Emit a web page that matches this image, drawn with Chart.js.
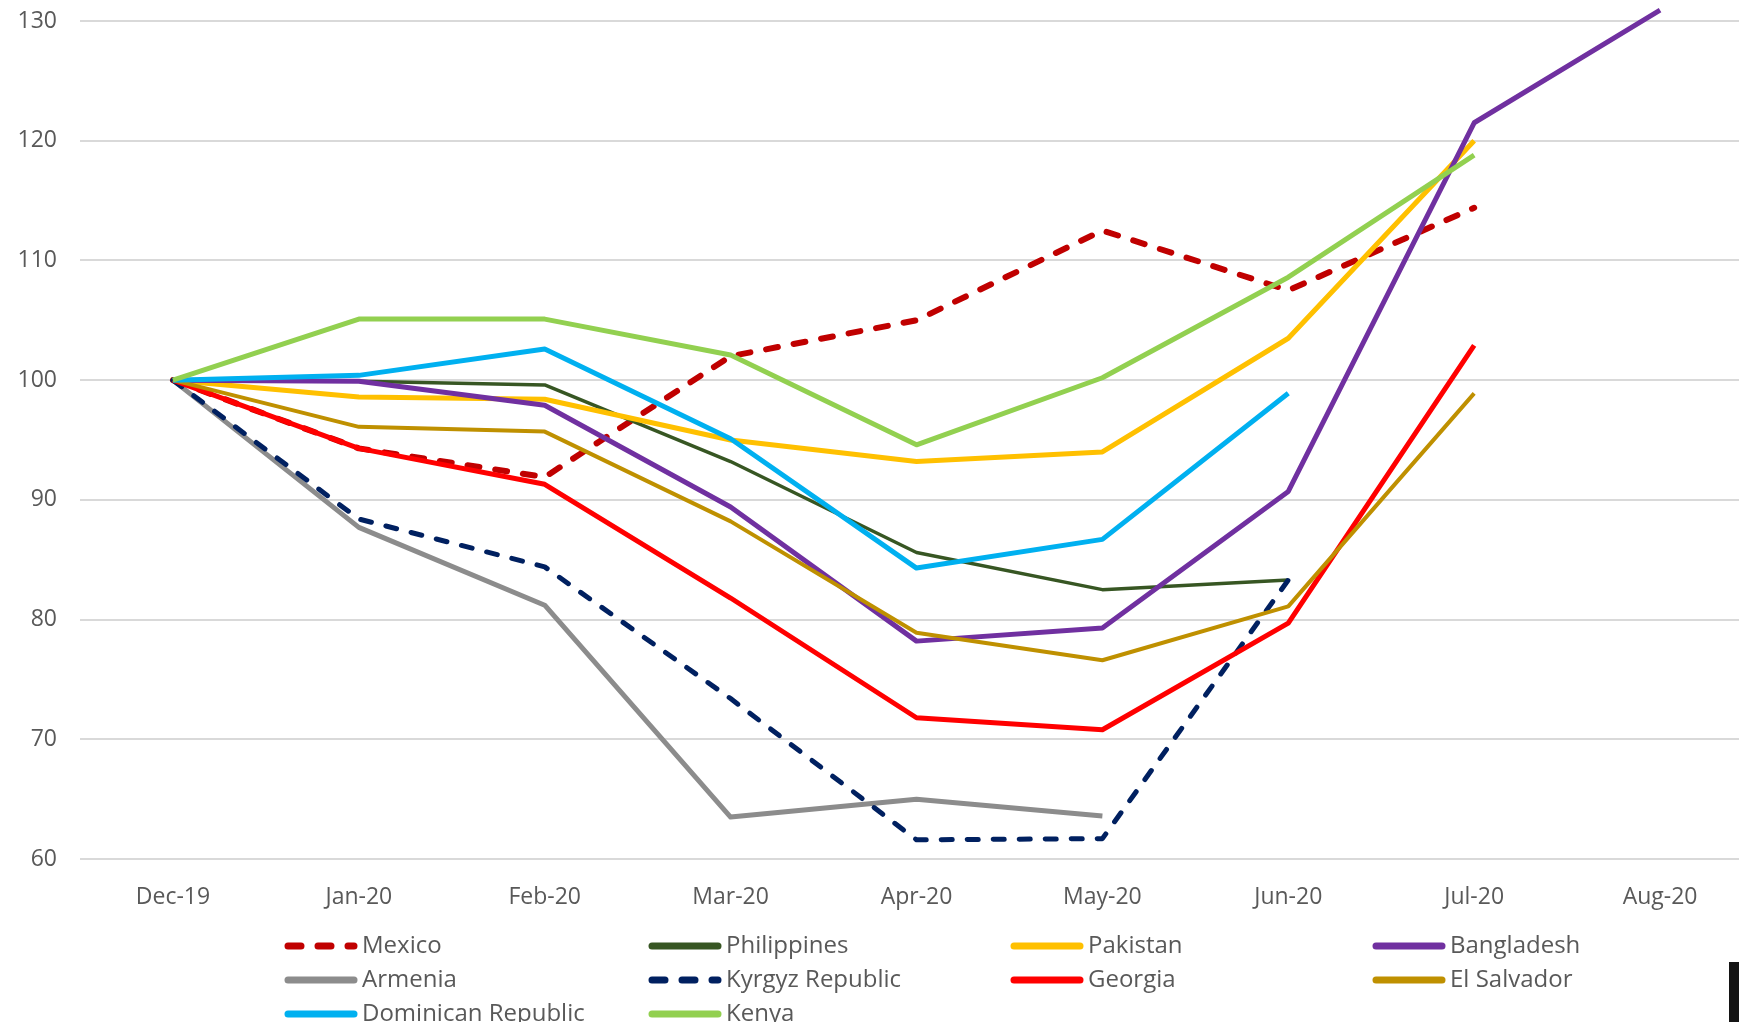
<!DOCTYPE html>
<html>
<head>
<meta charset="utf-8">
<script src="https://cdn.jsdelivr.net/npm/chart.js@4.4.0/dist/chart.umd.min.js"></script>
<style>
  body { margin: 0; overflow: hidden; background: #fff; }
  .wrap { position: relative; width: 1760px; height: 1022px; }
  .corner { position: absolute; left: 1729px; top: 962px; width: 10px; height: 60px; background: #141414; }
</style>
</head>
<body>
<div class="wrap">
  <canvas class="linechart"></canvas>
  <div class="corner"></div>
</div>
<script>
var mesi = ['Dec-19', 'Jan-20', 'Feb-20', 'Mar-20', 'Apr-20', 'May-20', 'Jun-20', 'Jul-20', 'Aug-20'];
var yTicks = [60, 70, 80, 90, 100, 110, 120, 130];

var mexico      = [100, 94.3, 91.9, 102.0, 105.0, 112.5, 107.5, 114.4, null];
var philippines = [100, 99.9, 99.6, 93.2, 85.6, 82.5, 83.3, null, null];
var pakistan    = [100, 98.6, 98.4, 95.0, 93.2, 94.0, 103.5, 120.0, null];
var bangladesh  = [100, 99.9, 97.9, 89.4, 78.2, 79.3, 90.7, 121.5, 130.9];
var armenia     = [100, 87.7, 81.2, 63.5, 65.0, 63.6, null, null, null];
var kyrgyz      = [100, 88.4, 84.4, 73.4, 61.6, 61.7, 83.3, null, null];
var georgia     = [100, 94.3, 91.3, 81.8, 71.8, 70.8, 79.7, 102.9, null];
var elSalvador  = [100, 96.1, 95.7, 88.2, 78.9, 76.6, 81.1, 98.9, null];
var dominican   = [100, 100.4, 102.6, 95.1, 84.3, 86.7, 98.9, null, null];
var kenya       = [100, 105.1, 105.1, 102.1, 94.6, 100.2, 108.6, 118.8, null];

var series = [
  { label: 'Mexico', data: mexico, color: '#C00000', width: 6, dash: [12, 16] },
  { label: 'Philippines', data: philippines, color: '#375623', width: 3.5 },
  { label: 'Pakistan', data: pakistan, color: '#FFC000', width: 5 },
  { label: 'Bangladesh', data: bangladesh, color: '#7030A0', width: 5 },
  { label: 'Armenia', data: armenia, color: '#8C8C8C', width: 5 },
  { label: 'Kyrgyz Republic', data: kyrgyz, color: '#002060', width: 5, dash: [11, 15] },
  { label: 'Georgia', data: georgia, color: '#FF0000', width: 5 },
  { label: 'El Salvador', data: elSalvador, color: '#BF9000', width: 4 },
  { label: 'Dominican Republic', data: dominican, color: '#00B0F0', width: 5 },
  { label: 'Kenya', data: kenya, color: '#92D050', width: 5 }
];

var FONT = "'Open Sans', 'Noto Sans', sans-serif";

// legend laid out in a grid like the excel one
var gridLegend = {
  id: 'gridLegend',
  afterDraw: function(chart) {
    var ctx = chart.ctx;
    var colX = [285, 649, 1011, 1373];
    var rowY = [946, 980, 1014];
    ctx.save();
    ctx.font = '24px ' + FONT;
    ctx.textBaseline = 'middle';
    chart.data.datasets.forEach(function(ds, i) {
      var x = colX[i % 4];
      var y = rowY[Math.floor(i / 4)];
      ctx.beginPath();
      ctx.strokeStyle = ds.borderColor;
      ctx.lineWidth = 7;
      ctx.lineCap = 'round';
      ctx.setLineDash(ds.dashed ? [13, 17] : []);
      ctx.moveTo(x + 3, y);
      ctx.lineTo(x + 69, y);
      ctx.stroke();
      ctx.setLineDash([]);
      ctx.fillStyle = '#595959';
      ctx.fillText(ds.label, x + 77, y);
    });
    ctx.restore();
  }
};

function printline()
{
  var ctx = $('.linechart');
  var chart = new Chart(ctx, {
    type: 'line',
    data: {
      labels: mesi,
      datasets: series.map(function(s, i) {
        return {
          label: s.label,
          data: s.data,
          borderColor: s.color,
          backgroundColor: s.color,
          borderWidth: s.width,
          borderDash: s.dash || [],
          borderCapStyle: s.dash ? 'round' : 'butt',
          borderJoinStyle: 'round',
          dashed: !!s.dash,
          pointRadius: 0,
          tension: 0,
          fill: false,
          clip: false,   // bangladesh goes a bit over 130
          order: series.length - i
        };
      })
    },
    options: {
      responsive: true,
      maintainAspectRatio: false,
      animation: false,
      layout: { padding: { left: 0, right: 7, top: 21, bottom: 103 } },
      plugins: {
        legend: { display: false },
        tooltip: { enabled: false }
      },
      scales: {
        x: {
          offset: true,
          grid: { display: false, drawTicks: false, offset: true },
          border: { display: false },
          ticks: { color: '#595959', font: { family: FONT, size: 23 }, padding: 25, maxRotation: 0 },
          afterFit: function(scale) { scale.height = 60; }
        },
        y: {
          min: 60,
          max: 130,
          afterBuildTicks: function(scale) {
            scale.ticks = yTicks.map(function(v) { return { value: v }; });
          },
          grid: { color: '#D9D9D9', lineWidth: 2, drawTicks: false },
          border: { display: false },
          ticks: { color: '#595959', font: { family: FONT, size: 23 }, padding: 23 },
          afterFit: function(scale) {
            scale.width = 80;
            // tick padding otherwise pushes the plot top down
            scale.paddingTop = 10;
            scale.paddingBottom = 10;
          }
        }
      }
    },
    plugins: [gridLegend]
  });
}

function $(sel) { return document.querySelector(sel); }

printline();
</script>
</body>
</html>
